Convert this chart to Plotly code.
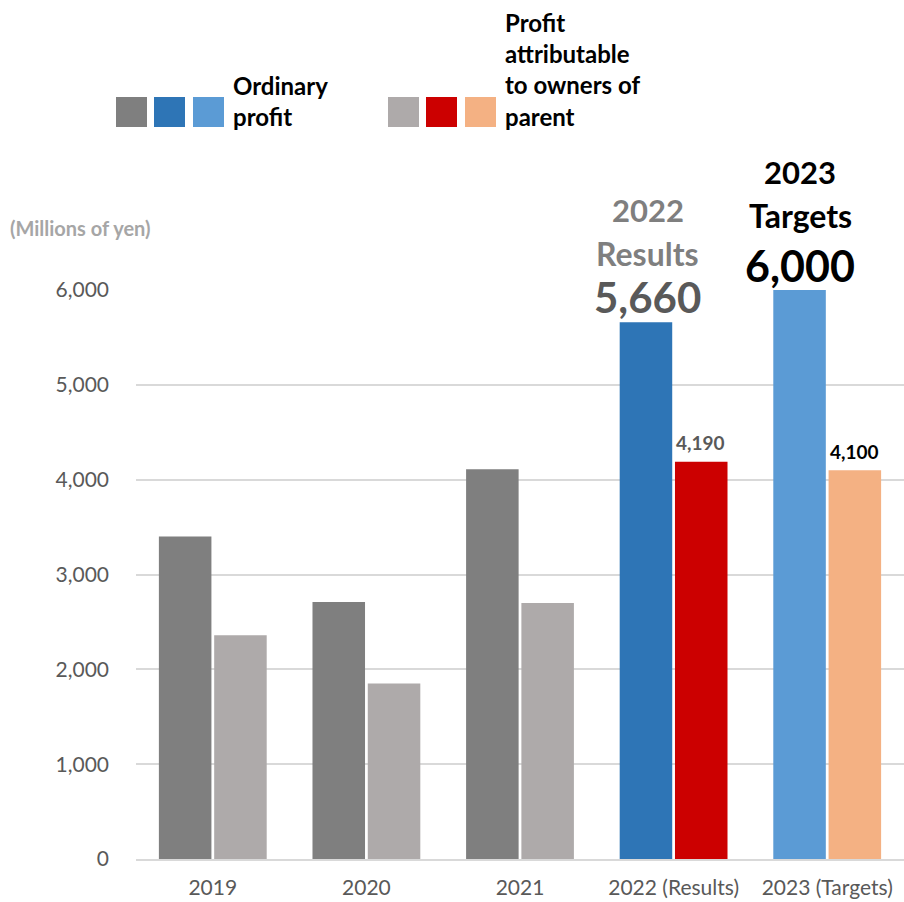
import plotly.graph_objects as go

categories = ["2019", "2020", "2021", "2022 (Results)", "2023 (Targets)"]
ordinary_profit = [3400, 2710, 4110, 5660, 6000]
profit_owners = [2360, 1850, 2700, 4190, 4100]
ordinary_colors = ["#7f7f7f", "#7f7f7f", "#7f7f7f", "#2e75b6", "#5b9bd5"]
owners_colors = ["#aeaaaa", "#aeaaaa", "#aeaaaa", "#cc0000", "#f4b183"]
y_ticks = [0, 1000, 2000, 3000, 4000, 5000, 6000]

FONT = "Lato"

fig = go.Figure()
fig.add_trace(go.Bar(x=categories, y=ordinary_profit, marker=dict(color=ordinary_colors, line=dict(width=0)),
                     name="Ordinary profit", showlegend=False))
fig.add_trace(go.Bar(x=categories, y=profit_owners, marker=dict(color=owners_colors, line=dict(width=0)),
                     name="Profit attributable to owners of parent", showlegend=False))

L, T, B = 136, 290, 43
W, H = 904, 902
PW, PH = W - L, H - T - B


def px(x):
    return (x - L) / PW


def py(y):
    return (H - B - y) / PH


shapes = []
# legend swatches
for x0, c in [(116, "#7f7f7f"), (154, "#2e75b6"), (193, "#5b9bd5"),
              (388, "#aeaaaa"), (426, "#cc0000"), (465, "#f4b183")]:
    shapes.append(dict(type="rect", xref="paper", yref="paper", x0=px(x0), x1=px(x0 + 31),
                       y0=py(127), y1=py(97), fillcolor=c, line=dict(width=0)))

ann = []
ann.append(dict(xref="paper", yref="paper", x=px(231), y=py(101), xanchor="left", yanchor="middle",
                text="Ordinary<br>profit", showarrow=False, align="left",
                font=dict(family=FONT, size=24, color="#000000", weight="bold")))
ann.append(dict(xref="paper", yref="paper", x=px(503), y=py(69), xanchor="left", yanchor="middle",
                text="Profit<br>attributable<br>to owners of<br>parent", showarrow=False, align="left",
                font=dict(family=FONT, size=24, color="#000000", weight="bold")))
ann.append(dict(xref="paper", yref="paper", x=px(8), y=py(228), xanchor="left", yanchor="middle",
                text="(Millions of yen)", showarrow=False,
                font=dict(family=FONT, size=20, color="#a6a6a6", weight="bold")))

# 2022 results labels
ann.append(dict(x=categories[3], y=ordinary_profit[3], xshift=-26, yshift=25, yanchor="middle",
                text=f"{ordinary_profit[3]:,}", showarrow=False,
                font=dict(family=FONT, size=42, color="#595959", weight="bold")))
ann.append(dict(x=categories[3], y=ordinary_profit[3], xshift=-26, yshift=69, yanchor="middle",
                text="Results", showarrow=False,
                font=dict(family=FONT, size=32, color="#7f7f7f", weight="bold")))
ann.append(dict(x=categories[3], y=ordinary_profit[3], xshift=-26, yshift=112, yanchor="middle",
                text="2022", showarrow=False,
                font=dict(family=FONT, size=31, color="#7f7f7f", weight="bold")))
# 2023 targets labels
ann.append(dict(x=categories[4], y=ordinary_profit[4], xshift=-27, yshift=25, yanchor="middle",
                text=f"{ordinary_profit[4]:,}", showarrow=False,
                font=dict(family=FONT, size=43, color="#000000", weight="bold")))
ann.append(dict(x=categories[4], y=ordinary_profit[4], xshift=-27, yshift=75, yanchor="middle",
                text="Targets", showarrow=False,
                font=dict(family=FONT, size=32, color="#000000", weight="bold")))
ann.append(dict(x=categories[4], y=ordinary_profit[4], xshift=-27, yshift=118, yanchor="middle",
                text="2023", showarrow=False,
                font=dict(family=FONT, size=31, color="#000000", weight="bold")))
# small labels
ann.append(dict(x=categories[3], y=profit_owners[3], xshift=27, yshift=19, yanchor="middle",
                text=f"{profit_owners[3]:,}", showarrow=False,
                font=dict(family=FONT, size=19, color="#595959", weight="bold")))
ann.append(dict(x=categories[4], y=profit_owners[4], xshift=27, yshift=19, yanchor="middle",
                text=f"{profit_owners[4]:,}", showarrow=False,
                font=dict(family=FONT, size=19, color="#000000", weight="bold")))

fig.update_layout(
    width=W, height=H,
    margin=dict(l=L, r=0, t=T, b=B, pad=0),
    paper_bgcolor="white", plot_bgcolor="white",
    barmode="group", bargap=0.28, bargroupgap=0.05,
    shapes=shapes, annotations=ann,
    font=dict(family=FONT),
    xaxis=dict(type="category", showgrid=False, showline=True, linecolor="#d9d9d9", linewidth=2,
               ticks="", tickfont=dict(family=FONT, size=21, color="#595959"), ticklabelstandoff=9),
    yaxis=dict(range=[0, 6000], tickvals=y_ticks, tickformat=",", showgrid=True, gridcolor="#d9d9d9",
               gridwidth=1.5, zeroline=False, showline=False, ticks="",
               tickfont=dict(family=FONT, size=21, color="#595959"), ticklabelstandoff=26),
)

fig.write_html("out.html")
